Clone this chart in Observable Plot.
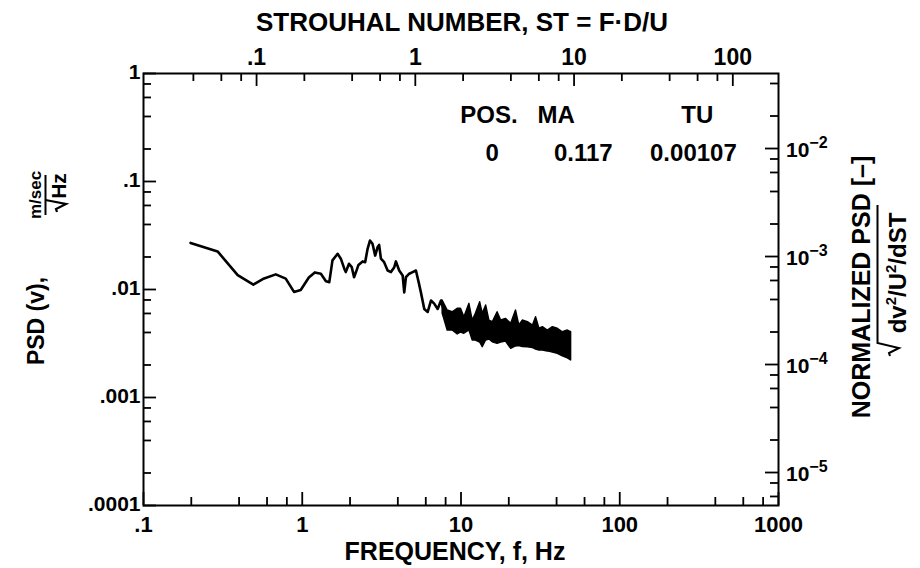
<!DOCTYPE html>
<html>
<head>
<meta charset="utf-8">
<script src="https://cdn.jsdelivr.net/npm/d3@7"></script>
<script src="https://cdn.jsdelivr.net/npm/@observablehq/plot@0.6"></script>
<style>
  html, body { margin: 0; padding: 0; background: #fff; }
  #chart svg { display: block; }
</style>
</head>
<body>
<div id="chart"></div>
<script>
// ---------- data ----------
const lineFreq = [0.198, 0.293, 0.392, 0.492, 0.564, 0.681, 0.787, 0.887, 0.978, 1.10, 1.20, 1.31, 1.41, 1.48, 1.55, 1.67, 1.75, 1.84, 1.88, 1.97, 2.05, 2.12, 2.18, 2.26, 2.40, 2.49, 2.58, 2.67, 2.77, 2.88, 2.98, 3.05, 3.13, 3.28, 3.45, 3.62, 3.80, 3.89, 4.08, 4.29, 4.39, 4.50, 4.72, 4.96, 5.20, 5.41, 5.59, 5.87, 6.17, 6.47, 6.78, 7.13, 7.48, 7.85];
const linePsd = [0.0270, 0.0225, 0.0136, 0.0111, 0.0125, 0.0138, 0.0126, 0.0095, 0.0099, 0.0129, 0.0144, 0.0140, 0.0119, 0.0117, 0.0186, 0.0214, 0.0193, 0.0156, 0.0145, 0.0173, 0.0161, 0.0130, 0.0145, 0.0169, 0.0182, 0.0179, 0.0238, 0.0284, 0.0265, 0.0206, 0.0246, 0.0259, 0.0193, 0.0179, 0.0150, 0.0145, 0.0161, 0.0182, 0.0150, 0.0135, 0.0094, 0.0130, 0.0140, 0.0145, 0.0150, 0.0117, 0.0094, 0.0066, 0.0062, 0.0079, 0.0074, 0.0066, 0.0079, 0.0062];

// dense, noisy part of the spectrum: upper and lower envelope
const bandFreq = [7.66, 8.24, 8.86, 9.53, 10.0, 10.5, 11.3, 11.85, 12.4, 13.2, 13.7, 14.4, 15.1, 15.85, 17.0, 17.9, 19.2, 20.7, 22.2, 23.3, 24.5, 26.4, 28.4, 29.7, 31.2, 32.8, 35.2, 37.9, 40.7, 43.8, 47.1, 49.4];
const bandHigh = [0.00791, 0.00639, 0.00616, 0.00663, 0.00663, 0.00554, 0.00737, 0.00516, 0.00596, 0.00763, 0.00596, 0.00711, 0.00516, 0.00498, 0.00616, 0.00516, 0.00535, 0.00481, 0.00639, 0.00464, 0.00516, 0.00498, 0.00464, 0.00554, 0.00433, 0.00448, 0.00417, 0.00448, 0.00433, 0.00402, 0.00417, 0.00402];
const bandLow = [0.00599, 0.00417, 0.00417, 0.00383, 0.00400, 0.00389, 0.00417, 0.00337, 0.00337, 0.00323, 0.00292, 0.00337, 0.00344, 0.00325, 0.00314, 0.00323, 0.00330, 0.00282, 0.00297, 0.00300, 0.00293, 0.00292, 0.00287, 0.00278, 0.00272, 0.00272, 0.00267, 0.00261, 0.00254, 0.00240, 0.00230, 0.00220];

// axes
const freqTicks = [0.1, 1, 10, 100, 1000];
const freqTickLabels = [".1", "1", "10", "100", "1000"];
const psdTicks = [1, 0.1, 0.01, 0.001, 0.0001];
const psdTickLabels = ["1", ".1", ".01", ".001", ".0001"];
const stTicks = [0.1, 1, 10, 100];
const stTickLabels = [".1", "1", "10", "100"];
const normTicks = [1e-2, 1e-3, 1e-4, 1e-5];
const normTickBase = ["10", "10", "10", "10"];
const normTickExp = ["\u22122", "\u22123", "\u22124", "\u22125"];

// legend
const legendHeaders = ["POS.", "MA", "TU"];
const legendValues = ["0", "0.117", "0.00107"];

// secondary-axis conversions
const stPerHz = 0.194;     // ST = stPerHz * f
const normPerPsd = 0.0495; // normalized PSD = normPerPsd * PSD

// ---------- layout ----------
const W = 920, H = 568;
const mL = 143, mR = 142, mT = 73, mB = 63;
const frameW = W - mL - mR, frameH = H - mT - mB;
const majorLen = 13, minorLen = 8;
const font = "'Liberation Sans', Arial, sans-serif";
const legendHeaderFreq = [15.0, 39.8, 308];
const legendValueFreq = [15.7, 58.9, 291];
const legendHeaderPsd = 0.406;
const legendValuePsd = 0.1805;

const line = lineFreq.map((f, i) => ({f, v: linePsd[i]}));
const band = bandFreq.map((f, i) => ({f, hi: bandHigh[i], lo: bandLow[i]}));

const mult = [2, 4, 6, 8];
const minorOf = decades => decades.flatMap(d => mult.map(m => m * d));
const xMinor = minorOf([0.1, 1, 10, 100]);
const yMinor = minorOf([1e-4, 1e-3, 1e-2, 1e-1]);
const stF = stTicks.map(s => s / stPerHz);
const stMinorF = minorOf([0.01, 0.1, 1, 10]).map(s => s / stPerHz).filter(f => f > 0.105 && f < 990);
const normP = normTicks.map(n => n / normPerPsd);
const normMinorP = minorOf([1e-6, 1e-5, 1e-4, 1e-3, 1e-2]).map(n => n / normPerPsd).filter(p => p > 1.03e-4 && p < 0.97);

const lab = (ticks, labels) => { const m = new Map(ticks.map((t, i) => [t, labels[i]])); return d => m.get(d) ?? ""; };
const tk = {stroke: "black", strokeWidth: 1.8};

const plot = Plot.plot({
  width: W,
  height: H,
  marginLeft: mL,
  marginRight: mR,
  marginTop: mT,
  marginBottom: mB,
  x: {type: "log", domain: [0.1, 1000], axis: null},
  y: {type: "log", domain: [1e-4, 1], axis: null},
  style: {fontFamily: font, fontWeight: "bold", color: "black", background: "white"},
  marks: [
    Plot.areaY(band, {x: "f", y1: "lo", y2: "hi", fill: "black", stroke: "black", strokeWidth: 1.4, curve: "linear"}),
    Plot.line(line, {x: "f", y: "v", stroke: "black", strokeWidth: 2.6, curve: "linear", strokeLinejoin: "round"}),

    // inward tick marks
    Plot.ruleX(freqTicks, {x: d => d, insetTop: frameH - majorLen, ...tk}),
    Plot.ruleX(xMinor, {x: d => d, insetTop: frameH - minorLen, ...tk}),
    Plot.ruleX(stF, {x: d => d, insetBottom: frameH - majorLen, ...tk}),
    Plot.ruleX(stMinorF, {x: d => d, insetBottom: frameH - minorLen, ...tk}),
    Plot.ruleY(psdTicks, {y: d => d, insetRight: frameW - majorLen, ...tk}),
    Plot.ruleY(yMinor, {y: d => d, insetRight: frameW - minorLen, ...tk}),
    Plot.ruleY(normP, {y: d => d, insetLeft: frameW - majorLen, ...tk}),
    Plot.ruleY(normMinorP, {y: d => d, insetLeft: frameW - minorLen, ...tk}),
    Plot.frame({stroke: "black", strokeWidth: 2}),

    // tick labels
    Plot.text(freqTicks, {x: d => d, frameAnchor: "bottom", dy: 11, lineAnchor: "top", text: lab(freqTicks, freqTickLabels), fontSize: 22, fill: "black"}),
    Plot.text(stF, {x: d => d, frameAnchor: "top", dy: -9, lineAnchor: "bottom", text: lab(stF, stTickLabels), fontSize: 23, fill: "black"}),
    Plot.text(psdTicks, {y: d => d, frameAnchor: "left", dx: -3, dy: -1, textAnchor: "end", text: lab(psdTicks, psdTickLabels), fontSize: 21, fill: "black"}),

    // legend
    Plot.text(legendHeaders, {x: (d, i) => legendHeaderFreq[i], y: () => legendHeaderPsd, text: d => d, fontSize: 24, fill: "black"}),
    Plot.text(legendValues, {x: (d, i) => legendValueFreq[i], y: () => legendValuePsd, text: d => d, fontSize: 24, fill: "black"})
  ]
});

document.getElementById("chart").appendChild(plot);

// ---------- annotations (titles, right-axis labels) ----------
const ys = plot.scale("y");
const svg = d3.select(plot);
const g = svg.append("g").attr("font-family", font).attr("font-weight", "bold").attr("fill", "black").attr("text-anchor", "start");

normTicks.forEach((n, i) => {
  const yy = ys.apply(n / normPerPsd);
  const t = g.append("text").attr("x", 786).attr("y", yy + 9).attr("font-size", 21).attr("text-anchor", "start");
  t.append("tspan").text(normTickBase[i]);
  t.append("tspan").attr("font-size", 16).attr("dy", -9).text(normTickExp[i]);
});

g.append("text").attr("x", 462).attr("y", 31).attr("text-anchor", "middle").attr("font-size", 26)
  .text("STROUHAL NUMBER, ST = F\u00B7D/U");
g.append("text").attr("x", 455).attr("y", 560).attr("text-anchor", "middle").attr("font-size", 25)
  .text("FREQUENCY, f, Hz");

// left title
g.append("text").attr("transform", "translate(44,321) rotate(-90)").attr("text-anchor", "middle").attr("font-size", 23).text("PSD (v),");
g.append("text").attr("transform", "translate(41,195) rotate(-90)").attr("text-anchor", "middle").attr("font-size", 17).text("m/sec");
g.append("line").attr("x1", 45.5).attr("x2", 45.5).attr("y1", 175).attr("y2", 215).attr("stroke", "black").attr("stroke-width", 2);
g.append("text").attr("transform", "translate(66,186) rotate(-90)").attr("text-anchor", "middle").attr("font-size", 21).text("Hz");
g.append("path").attr("d", "M45.5,200 L66,204 L56,209 L57,212").attr("fill", "none").attr("stroke", "black").attr("stroke-width", 2.2);

// right title
g.append("text").attr("transform", "translate(870,287) rotate(-90)").attr("text-anchor", "middle").attr("font-size", 25).text("NORMALIZED PSD [\u2013]");
g.append("path").attr("d", "M877.5,205 L877.5,343 L899,348 L889,353 L890,356").attr("fill", "none").attr("stroke", "black").attr("stroke-width", 2);
const rt = g.append("text").attr("transform", "translate(906,273) rotate(-90)").attr("text-anchor", "middle").attr("font-size", 24);
rt.append("tspan").text("dv");
rt.append("tspan").attr("font-size", 15).attr("dy", -10).text("2");
rt.append("tspan").attr("dy", 10).text("/U");
rt.append("tspan").attr("font-size", 15).attr("dy", -10).text("2");
rt.append("tspan").attr("dy", 10).text("/dST");
</script>
</body>
</html>
